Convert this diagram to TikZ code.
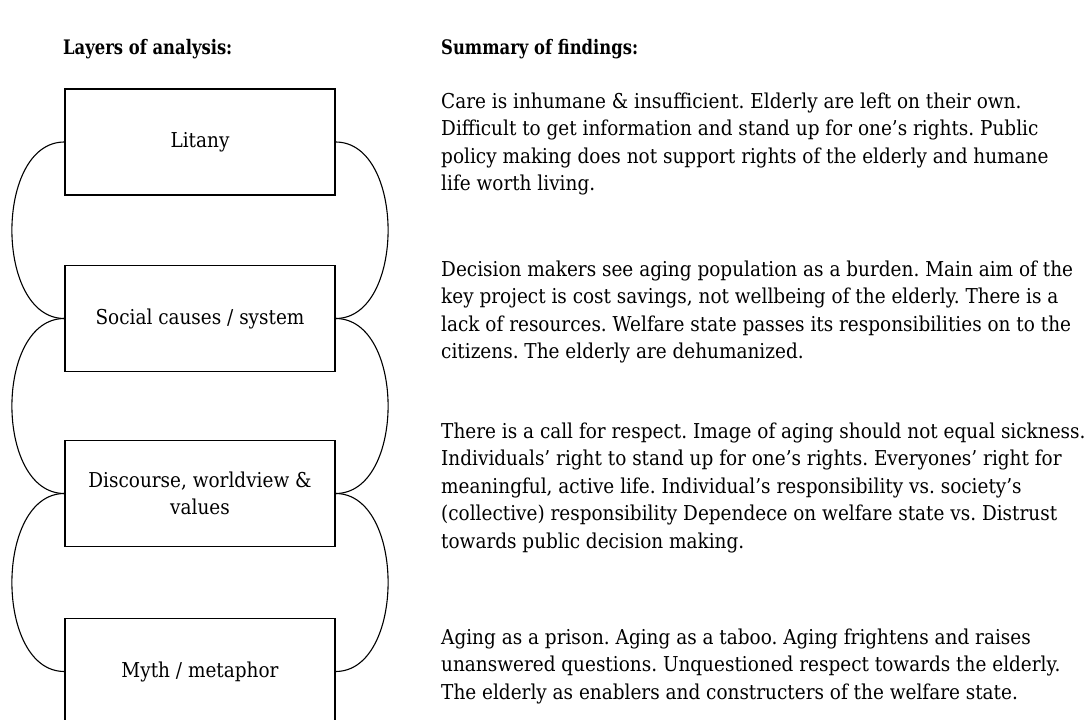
\documentclass[tikz,border=0pt]{standalone}
\usepackage{fontspec}
\setmainfont{DejaVu Serif}[FakeStretch=0.9]
\newfontfamily\headfont{DejaVu Serif}[FakeStretch=0.82]
\frenchspacing
\begin{document}
\begin{tikzpicture}[x=1pt,y=-1pt,
  layer/.style={draw, line width=1.2pt, minimum width=270pt, minimum height=106pt,
    inner sep=0pt, align=center, font=\fontsize{20.5}{27}\selectfont},
  link/.style={line width=1.1pt},
  para/.style={anchor=base west, inner sep=0pt, font=\fontsize{20.5}{27.6}\selectfont},
  heading/.style={anchor=base west, inner sep=0pt, font=\headfont\bfseries\fontsize{20}{24}\selectfont}]
\clip (0,0) rectangle (1090,720);
\fill[white] (0,0) rectangle (1090,720);

\node[heading] (h1) at (63,54) {Layers of analysis:};
\node[heading] (h2) at (441,54) {Summary of findings:};

\node[layer] (l1) at (200,142) {Litany};
\node[layer] (l2) at (200,318.5) {Social causes / system};
\node[layer] (l3) at (200,493.5) {Discourse, worldview \&\\values};
\node[layer] (l4) at (200,671.5) {Myth / metaphor};

\foreach \a/\b in {l1/l2,l2/l3,l3/l4}{
  \draw[link] (\a.west) .. controls +(-70,0) and +(-70,0) .. (\b.west);
  \draw[link] (\a.east) .. controls +(70,0) and +(70,0) .. (\b.east);
}

\node[para] (p1) at (441,108) {\parbox[t]{645pt}{\raggedright
Care is inhumane \& insufficient. Elderly are left on their own.\\
Difficult to get information and stand up for one’s rights. Public\\
policy making does not support rights of the elderly and humane\\
life worth living.}};
\node[para] (p2) at (441,276) {\parbox[t]{645pt}{\raggedright
Decision makers see aging population as a burden. Main aim of the\\
key project is cost savings, not wellbeing of the elderly. There is a\\
lack of resources. Welfare state passes its responsibilities on to the\\
citizens. The elderly are dehumanized.}};
\node[para] (p3) at (441,438) {\parbox[t]{645pt}{\raggedright
There is a call for respect. Image of aging should not equal sickness.\\
Individuals’ right to stand up for one’s rights. Everyones’ right for\\
meaningful, active life. Individual’s responsibility vs. society’s\\
(collective) responsibility Dependece on welfare state vs. Distrust\\
towards public decision making.}};
\node[para] (p4) at (441,644) {\parbox[t]{645pt}{\raggedright
Aging as a prison. Aging as a taboo. Aging frightens and raises\\
unanswered questions. Unquestioned respect towards the elderly.\\
The elderly as enablers and constructers of the welfare state.}};
\end{tikzpicture}
\end{document}
